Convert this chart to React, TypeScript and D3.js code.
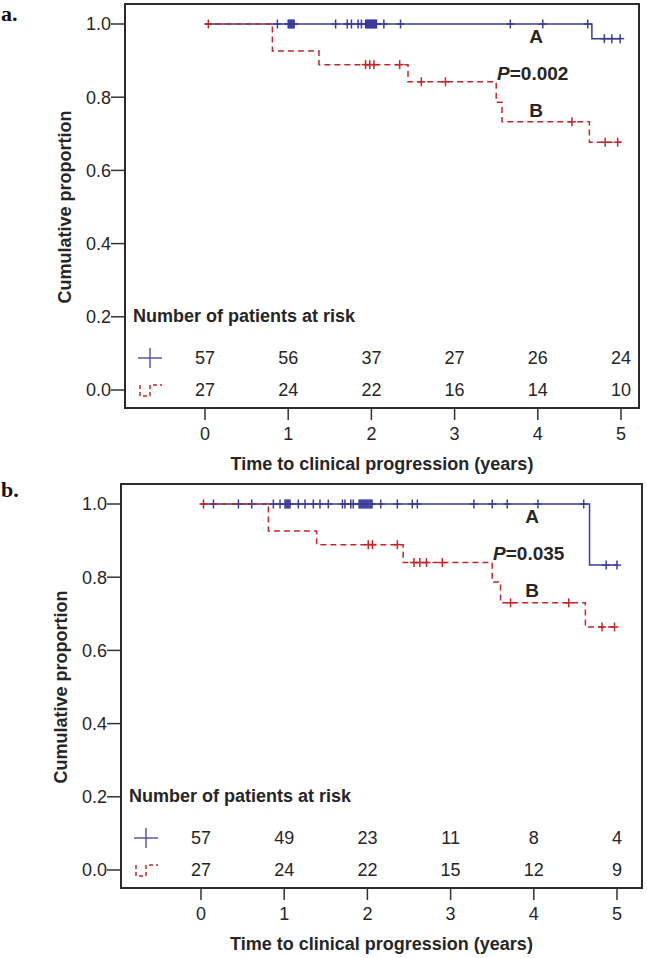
import React from 'react';
import * as d3 from 'd3';

const WIDTH = 647;
const HEIGHT = 958;

const YEARS = [0, 1, 2, 3, 4, 5];
const Y_TICKS = [0, 0.2, 0.4, 0.6, 0.8, 1.0];

// panel a: step points [time, survival]
const A_GROUP_A_STEPS: [number, number][] = [[0, 1], [4.65, 0.96]];
const A_GROUP_A_CENSOR = [
  0.87, 1.0, 1.012, 1.024, 1.036, 1.048, 1.06, 1.072, 1.57, 1.71, 1.76, 1.84, 1.88,
  1.93, 1.942, 1.954, 1.966, 1.978, 1.99, 2.002, 2.014, 2.026, 2.038, 2.05, 2.062,
  2.15, 2.35, 3.67, 4.06, 4.6, 4.8, 4.89, 4.99,
];
const A_GROUP_B_STEPS: [number, number][] = [[0, 1], [0.81, 0.926], [1.37, 0.889], [2.44, 0.842], [3.5, 0.786], [3.57, 0.733], [4.62, 0.677]];
const A_GROUP_B_CENSOR = [0.04, 1.93, 1.98, 2.03, 2.34, 2.6, 2.89, 4.41, 4.81, 4.96];
const A_RISK_A = [57, 56, 37, 27, 26, 24];
const A_RISK_B = [27, 24, 22, 16, 14, 10];

// panel b
const B_GROUP_A_STEPS: [number, number][] = [[0, 1], [4.67, 0.833]];
const B_GROUP_A_CENSOR = [
  0.15, 0.45, 0.61, 0.87, 0.95, 1.01, 1.022, 1.034, 1.046, 1.058, 1.07, 1.17, 1.25,
  1.35, 1.43, 1.53, 1.7, 1.73, 1.8, 1.83, 1.9, 1.912, 1.924, 1.936, 1.948, 1.96,
  1.972, 1.984, 1.996, 2.008, 2.02, 2.032, 2.044, 2.056, 2.16, 2.36, 2.54, 2.6,
  3.28, 3.5, 3.68, 4.05, 4.6, 4.87, 5.0,
];
const B_GROUP_B_STEPS: [number, number][] = [[0, 1], [0.81, 0.926], [1.39, 0.889], [2.43, 0.84], [3.5, 0.787], [3.6, 0.73], [4.62, 0.664]];
const B_GROUP_B_CENSOR = [0.03, 2.01, 2.06, 2.36, 2.56, 2.63, 2.71, 2.9, 3.72, 4.42, 4.82, 4.97];
const B_RISK_A = [57, 49, 23, 11, 8, 4];
const B_RISK_B = [27, 24, 22, 15, 12, 9];

const END_TIME = 5.0;

const BLUE = '#3b3d9a';
const RED = '#c3262c';
const TEXT = '#262626';
const FONT = 'Liberation Sans, Arial, sans-serif';

const survivalAt = (steps: [number, number][], t: number): number => {
  let s = steps[0][1];
  for (const [st, sv] of steps) if (st <= t) s = sv;
  return s;
};

interface PanelProps {
  letter: string;
  oy: number;
  x0: number;
  x5: number;
  frameLeft: number;
  frameRight: number;
  stepsA: [number, number][];
  censorA: number[];
  stepsB: [number, number][];
  censorB: number[];
  riskA: number[];
  riskB: number[];
  pValue: string;
  letterY: number;
}

const Panel: React.FC<PanelProps> = (p) => {
  const x = d3.scaleLinear().domain([0, 5]).range([p.x0, p.x5]);
  const y = d3.scaleLinear().domain([0, 1]).range([p.oy + 390, p.oy + 24]);
  const frameTop = p.oy + 4;
  const frameBottom = p.oy + 408;

  const line = d3
    .line<[number, number]>()
    .x((d) => x(d[0]))
    .y((d) => y(d[1]))
    .curve(d3.curveStepAfter);

  const withEnd = (steps: [number, number][]): [number, number][] => [
    ...steps,
    [END_TIME, steps[steps.length - 1][1]],
  ];

  const censor = (steps: [number, number][], times: number[], color: string, key: string) =>
    times.map((t, i) => {
      const cx = x(t);
      const cy = y(survivalAt(steps, t));
      return (
        <g key={`${key}${i}`} stroke={color} strokeWidth={1.5}>
          <line x1={cx} x2={cx} y1={cy - 4.5} y2={cy + 4.5} />
          <line x1={cx - 4} x2={cx + 4} y1={cy} y2={cy} />
        </g>
      );
    });

  const midX = (p.frameLeft + p.frameRight) / 2;

  return (
    <g>
      <text x={1} y={p.letterY} fontFamily="Liberation Serif, Times New Roman, serif" fontWeight="bold" fontSize={22} fill="#111">
        {p.letter}
      </text>
      <rect
        x={p.frameLeft}
        y={frameTop}
        width={p.frameRight - p.frameLeft}
        height={frameBottom - frameTop}
        fill="none"
        stroke="#2b2b2b"
        strokeWidth={2}
      />
      {/* y axis */}
      {Y_TICKS.map((v) => (
        <g key={`yt${v}`}>
          <line x1={p.frameLeft - 14} x2={p.frameLeft} y1={y(v)} y2={y(v)} stroke="#333" strokeWidth={1.5} />
          <text x={p.frameLeft - 14} y={y(v)} dy="0.36em" textAnchor="end" fontFamily={FONT} fontSize={18} fill={TEXT}>
            {v.toFixed(1)}
          </text>
        </g>
      ))}
      <text
        transform={`translate(${p.frameLeft - 54},${(y(0) + y(1)) / 2}) rotate(-90)`}
        textAnchor="middle"
        fontFamily={FONT}
        fontWeight="bold"
        fontSize={18}
        fill={TEXT}
      >
        Cumulative proportion
      </text>
      {/* x axis */}
      {YEARS.map((v) => (
        <g key={`xt${v}`}>
          <line x1={x(v)} x2={x(v)} y1={frameBottom} y2={frameBottom + 12} stroke="#333" strokeWidth={1.5} />
          <text x={x(v)} y={p.oy + 440} textAnchor="middle" fontFamily={FONT} fontSize={18} fill={TEXT}>
            {v}
          </text>
        </g>
      ))}
      <text x={midX} y={p.oy + 470} textAnchor="middle" fontFamily={FONT} fontWeight="bold" fontSize={18} fill={TEXT}>
        Time to clinical progression (years)
      </text>
      {/* curves */}
      <path d={line(withEnd(p.stepsA)) ?? ''} fill="none" stroke={BLUE} strokeWidth={1.5} />
      {censor(p.stepsA, p.censorA, BLUE, 'ca')}
      <path d={line(withEnd(p.stepsB)) ?? ''} fill="none" stroke={RED} strokeWidth={1.5} strokeDasharray="6,4" />
      {censor(p.stepsB, p.censorB, RED, 'cb')}
      {/* annotations */}
      <text x={x(3.98)} y={y(0.948)} textAnchor="middle" fontFamily={FONT} fontWeight="bold" fontSize={19} fill={TEXT}>
        A
      </text>
      <text x={x(3.51)} y={y(0.847)} fontFamily={FONT} fontWeight="bold" fontSize={19} fill={TEXT}>
        <tspan fontStyle="italic">P</tspan>
        {`=${p.pValue}`}
      </text>
      <text x={x(3.98)} y={y(0.746)} textAnchor="middle" fontFamily={FONT} fontWeight="bold" fontSize={19} fill={TEXT}>
        B
      </text>
      {/* risk table */}
      <text x={p.frameLeft + 8} y={p.oy + 322} fontFamily={FONT} fontWeight="bold" fontSize={18} fill={TEXT}>
        Number of patients at risk
      </text>
      <g stroke={BLUE} strokeWidth={1.5} opacity={0.85}>
        <line x1={p.frameLeft + 13} x2={p.frameLeft + 37} y1={p.oy + 358} y2={p.oy + 358} />
        <line x1={p.frameLeft + 25} x2={p.frameLeft + 25} y1={p.oy + 348} y2={p.oy + 368} />
      </g>
      <path
        d={`M${p.frameLeft + 15},${p.oy + 385}V${p.oy + 396}H${p.frameLeft + 25}V${p.oy + 385}H${p.frameLeft + 37}`}
        fill="none"
        stroke={RED}
        strokeWidth={1.5}
        strokeDasharray="4,3"
      />
      {p.riskA.map((n, i) => (
        <text key={`ra${i}`} x={x(YEARS[i])} y={p.oy + 364} textAnchor="middle" fontFamily={FONT} fontSize={18} fill={TEXT}>
          {n}
        </text>
      ))}
      {p.riskB.map((n, i) => (
        <text key={`rb${i}`} x={x(YEARS[i])} y={p.oy + 396} textAnchor="middle" fontFamily={FONT} fontSize={18} fill={TEXT}>
          {n}
        </text>
      ))}
    </g>
  );
};

export default function App() {
  return (
    <svg
      width={WIDTH}
      height={HEIGHT}
      style={{ position: 'absolute', left: 0, top: 0, background: '#fff' }}
    >
      <Panel
        letter="a."
        oy={0}
        x0={205}
        x5={621}
        frameLeft={125}
        frameRight={639}
        stepsA={A_GROUP_A_STEPS}
        censorA={A_GROUP_A_CENSOR}
        stepsB={A_GROUP_B_STEPS}
        censorB={A_GROUP_B_CENSOR}
        riskA={A_RISK_A}
        riskB={A_RISK_B}
        pValue="0.002"
        letterY={21}
      />
      <Panel
        letter="b."
        oy={480}
        x0={201}
        x5={617}
        frameLeft={121}
        frameRight={642}
        stepsA={B_GROUP_A_STEPS}
        censorA={B_GROUP_A_CENSOR}
        stepsB={B_GROUP_B_STEPS}
        censorB={B_GROUP_B_CENSOR}
        riskA={B_RISK_A}
        riskB={B_RISK_B}
        pValue="0.035"
        letterY={497}
      />
    </svg>
  );
}
